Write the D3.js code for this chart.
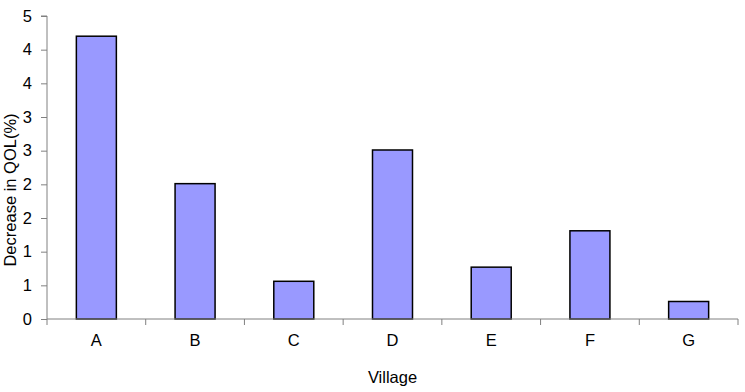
<!DOCTYPE html>
<html><head><meta charset="utf-8">
<script src="https://cdn.jsdelivr.net/npm/d3@7"></script>
<style>body{margin:0;background:#fff}svg{display:block}text{font-family:"Liberation Sans",Arial,sans-serif}</style>
</head><body>
<svg id="c" width="745" height="392"></svg>
<script>
const categories = ["A","B","C","D","E","F","G"];
const values = [4.20, 2.01, 0.56, 2.51, 0.77, 1.31, 0.26];
const yTicks = [0,0.5,1,1.5,2,2.5,3,3.5,4,4.5];
const yTickLabels = ["0","1","1","2","2","3","3","4","4","5"];

const svg = d3.select("#c");
const m = {left:47, right:7, top:16, bottom:73};
const W = 745, H = 392;
const FS = 16.5;
const x = d3.scaleBand().domain(categories).range([m.left, W - m.right]).paddingInner(0).paddingOuter(0);
const y = d3.scaleLinear().domain([0,4.5]).range([H - m.bottom, m.top]);
const bw = 40;

svg.selectAll("rect.bar").data(values).enter().append("rect")
  .attr("class","bar")
  .attr("x",(d,i)=>x(categories[i]) + (x.bandwidth()-bw)/2)
  .attr("y",d=>y(d))
  .attr("width",bw)
  .attr("height",d=>y(0)-y(d))
  .attr("fill","#9999ff").attr("stroke","#000").attr("stroke-width",1.5);

const yAxis = d3.axisLeft(y).tickValues(yTicks).tickSize(6).tickPadding(9)
  .tickFormat((d,i)=>yTickLabels[i]);
const gy = svg.append("g").attr("transform",`translate(${m.left},0)`).call(yAxis);
gy.select(".domain").attr("stroke","#808080").attr("d",`M-6,${y(4.5)}H0V${y(0)}`);
gy.selectAll(".tick line").attr("stroke","#808080");
gy.selectAll(".tick text").attr("font-size",FS).attr("fill","#000").attr("font-family","Liberation Sans, Arial, sans-serif");

const gx = svg.append("g").attr("transform",`translate(0,${y(0)})`)
  .call(d3.axisBottom(x).tickSize(0).tickPadding(15));
gx.select(".domain").attr("stroke","#808080").attr("d",`M${m.left},0H${W-m.right}`);
gx.selectAll(".tick text").attr("font-size",FS).attr("fill","#000").attr("font-family","Liberation Sans, Arial, sans-serif");
const bounds = categories.map(c=>x(c)).concat([x(categories[categories.length-1])+x.bandwidth()]);
gx.selectAll("line.b").data(bounds).enter().append("line").attr("class","b")
  .attr("x1",d=>d).attr("x2",d=>d).attr("y1",0).attr("y2",6).attr("stroke","#808080");

svg.append("text").attr("x",(m.left + W - m.right)/2).attr("y",383)
  .attr("text-anchor","middle").attr("font-size",FS).text("Village");
svg.append("text").attr("transform",`translate(16,190) rotate(-90)`)
  .attr("text-anchor","middle").attr("font-size",FS).text("Decrease in QOL(%)");
</script>
</body></html>
